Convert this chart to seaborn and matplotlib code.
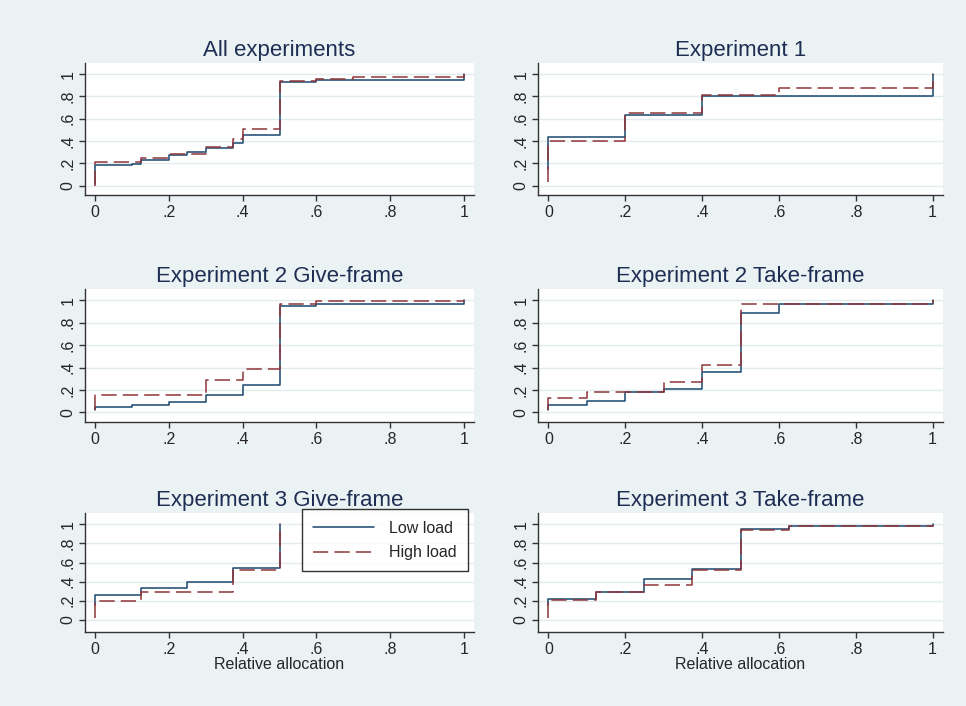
import numpy as np
import pandas as pd
import matplotlib.pyplot as plt
import seaborn as sns

# step points of the empirical CDFs (x = relative allocation, y = cumulative share)
titles = ["All experiments", "Experiment 1",
          "Experiment 2 Give-frame", "Experiment 2 Take-frame",
          "Experiment 3 Give-frame", "Experiment 3 Take-frame"]

all_low_x = [0, 0, 0.1, 0.125, 0.2, 0.25, 0.3, 0.375, 0.4, 0.5, 0.6, 1, 1]
all_low_y = [0.01, 0.18, 0.19, 0.23, 0.27, 0.30, 0.335, 0.38, 0.455, 0.93, 0.95, 0.95, 1.0]
all_high_x = [0, 0, 0.125, 0.2, 0.3, 0.375, 0.4, 0.5, 0.6, 0.7, 1, 1]
all_high_y = [0.0, 0.21, 0.245, 0.285, 0.35, 0.42, 0.51, 0.94, 0.96, 0.97, 0.97, 1.0]

e1_low_x = [0, 0, 0.2, 0.4, 1, 1]
e1_low_y = [0.15, 0.435, 0.63, 0.80, 0.80, 1.0]
e1_high_x = [0, 0, 0.2, 0.4, 0.6, 1, 1]
e1_high_y = [0.03, 0.40, 0.655, 0.81, 0.875, 0.875, 1.0]

e2g_low_x = [0, 0, 0.1, 0.2, 0.3, 0.4, 0.5, 0.6, 1, 1]
e2g_low_y = [0.02, 0.05, 0.065, 0.09, 0.155, 0.245, 0.945, 0.97, 0.97, 1.0]
e2g_high_x = [0, 0, 0.3, 0.4, 0.5, 0.6, 1, 1]
e2g_high_y = [0.02, 0.16, 0.285, 0.39, 0.97, 0.99, 0.99, 1.0]

e2t_low_x = [0, 0, 0.1, 0.2, 0.3, 0.4, 0.5, 0.6, 1, 1]
e2t_low_y = [0.02, 0.065, 0.105, 0.18, 0.21, 0.36, 0.89, 0.97, 0.97, 1.0]
e2t_high_x = [0, 0, 0.1, 0.3, 0.4, 0.5, 1, 1]
e2t_high_y = [0.02, 0.125, 0.18, 0.27, 0.42, 0.97, 0.97, 1.0]

e3g_low_x = [0, 0, 0.125, 0.25, 0.375, 0.5, 0.5]
e3g_low_y = [0.15, 0.26, 0.337, 0.39, 0.545, 0.545, 1.0]
e3g_high_x = [0, 0, 0.125, 0.375, 0.5, 0.5]
e3g_high_y = [0.02, 0.20, 0.29, 0.52, 0.52, 1.0]

e3t_low_x = [0, 0, 0.125, 0.25, 0.375, 0.5, 0.625, 1, 1]
e3t_low_y = [0.15, 0.22, 0.295, 0.43, 0.533, 0.955, 0.98, 0.98, 1.0]
e3t_high_x = [0, 0, 0.125, 0.25, 0.375, 0.5, 0.625, 1, 1]
e3t_high_y = [0.02, 0.205, 0.295, 0.36, 0.526, 0.94, 0.98, 0.98, 0.99]

panels = [(all_low_x, all_low_y, all_high_x, all_high_y),
          (e1_low_x, e1_low_y, e1_high_x, e1_high_y),
          (e2g_low_x, e2g_low_y, e2g_high_x, e2g_high_y),
          (e2t_low_x, e2t_low_y, e2t_high_x, e2t_high_y),
          (e3g_low_x, e3g_low_y, e3g_high_x, e3g_high_y),
          (e3t_low_x, e3t_low_y, e3t_high_x, e3t_high_y)]

ticks = [0, 0.2, 0.4, 0.6, 0.8, 1]
tick_labels = ["0", ".2", ".4", ".6", ".8", "1"]

sns.set_style("white")
plt.rcParams['font.family'] = ['Liberation Sans', 'DejaVu Sans']

bg = "#EAF2F3"
navy = "#1A476F"
maroon = "#90353B"

W, H = 966, 706
fig = plt.figure(figsize=(W / 100, H / 100), dpi=100, facecolor=bg)

# axes boxes in pixels: (left, right, top, bottom)
cols = [(85, 474), (538, 943)]
rows = [(63, 195), (289, 422), (513, 632)]
ylims = [(-0.085, 1.1), (-0.085, 1.1), (-0.13, 1.12)]

for i, (lx, ly, hx, hy) in enumerate(panels):
    r, c = divmod(i, 2)
    x0, x1 = cols[c]
    t, b = rows[r]
    ax = fig.add_axes([x0 / W, 1 - b / H, (x1 - x0) / W, (b - t) / H])
    ax.set_facecolor("white")

    df = pd.concat([
        pd.DataFrame({"x": lx, "y": ly, "load": "Low load"}),
        pd.DataFrame({"x": hx, "y": hy, "load": "High load"}),
    ])
    sns.lineplot(data=df, x="x", y="y", hue="load", style="load",
                 palette={"Low load": navy, "High load": maroon},
                 dashes={"Low load": "", "High load": (10, 4)},
                 estimator=None, sort=False, drawstyle="steps-post",
                 linewidth=1.1, ax=ax, legend=(i == 4))

    ax.set_xlim(-0.027, 1.027)
    ax.set_ylim(*ylims[r])
    ax.set_xticks(ticks)
    ax.set_xticklabels(tick_labels, fontsize=11.5)
    ax.set_yticks(ticks)
    ax.set_yticklabels(tick_labels, fontsize=11.5, rotation=90, va="center")
    ax.grid(axis="y", color="#E2EBED", linewidth=1)
    ax.grid(axis="x", visible=False)
    for s in ["top", "right"]:
        ax.spines[s].set_visible(False)
    for s in ["left", "bottom"]:
        ax.spines[s].set_color("#333333")
        ax.spines[s].set_linewidth(1)
    ax.tick_params(direction="out", length=4, width=1, color="#333333", pad=3,
                   left=True, bottom=True)
    ax.set_title(titles[i], fontsize=16, color="#1E2D53", pad=5)
    ax.set_ylabel("")
    ax.set_xlabel("Relative allocation" if r == 2 else "", fontsize=11.5, labelpad=0)

    if i == 4:
        leg = ax.legend(title=None, loc="upper right", bbox_to_anchor=(0.985, 1.03),
                        fontsize=11.5, frameon=True, fancybox=False,
                        edgecolor="black", handlelength=3.8, borderpad=0.7,
                        labelspacing=0.6, handletextpad=0.95, borderaxespad=0)
        leg.get_frame().set_linewidth(1)

fig.savefig("out.png", dpi=100, facecolor=bg)
